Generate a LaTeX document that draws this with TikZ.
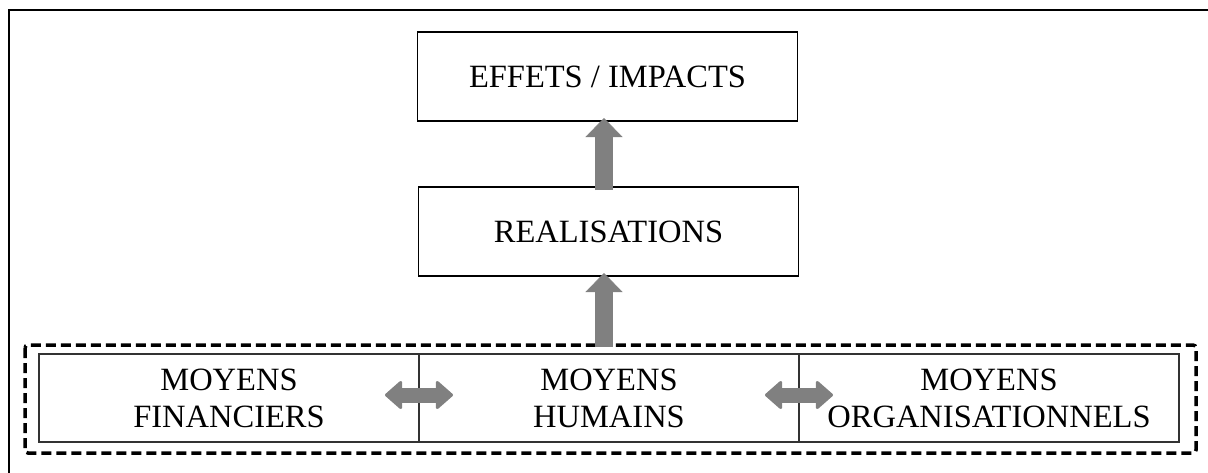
\documentclass[tikz,border=0pt]{standalone}
\usepackage{fontspec}
\setmainfont{Liberation Serif}
\usetikzlibrary{arrows.meta}
\begin{document}
\begin{tikzpicture}[x=1pt,y=-1pt,
  box/.style={draw=black, line width=1.2pt, inner sep=0pt, outer sep=0pt,
    minimum width=380pt, minimum height=89pt, align=center,
    font=\fontsize{32.5}{37}\selectfont},
  rowbox/.style={box, draw=black!80, line width=1.4pt, minimum height=88pt},
  uparrow/.style={draw=gray, line width=18pt,
    -{Triangle[width=37pt 0 0,length=19pt 0 0,line width=0.5pt]}},
  dblarrow/.style={draw=gray, line width=15pt,
    {Triangle[width=31pt 0 0,length=18pt 0 0,line width=3pt,round]}-{Triangle[width=31pt 0 0,length=18pt 0 0,line width=3pt,round]}},
]
\useasboundingbox (0,0) rectangle (1208,472);
\clip (0,0) rectangle (1208,472);
% outer frame (cropped)
\draw[line width=2.4pt] (9,480) -- (9,10) -- (1220,10);
% nodes
\node[box] (eff) at (607.5,76.5) {EFFETS / IMPACTS};
\node[box] (real) at (608.5,231.5) {REALISATIONS};
\node[rowbox] (fin) at (229,398) {MOYENS\\FINANCIERS};
\node[rowbox] (hum) at (609,398) {MOYENS\\HUMAINS};
\node[rowbox] (org) at (989,398) {MOYENS\\ORGANISATIONNELS};
% dashed group
\draw[line width=3.5pt, dash pattern=on 10pt off 5pt, rounded corners=3pt]
  (25,345) rectangle (1196,453);
% arrows
\draw[uparrow] ([xshift=-4.5pt,yshift=-3pt]real.north) -- ([xshift=-3.5pt,yshift=3pt]eff.south);
\draw[uparrow] ([xshift=-5pt,yshift=7pt]hum.north) -- ([xshift=-4.5pt,yshift=3pt]real.south);
\draw[dblarrow] ([xshift=-34pt,yshift=3pt]fin.east) -- ([xshift=34pt,yshift=3pt]fin.east);
\draw[dblarrow] ([xshift=-34pt,yshift=3pt]hum.east) -- ([xshift=34pt,yshift=3pt]hum.east);
\end{tikzpicture}
\end{document}
